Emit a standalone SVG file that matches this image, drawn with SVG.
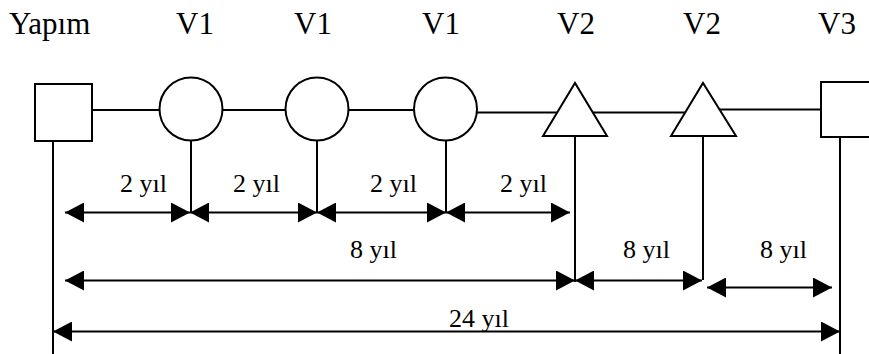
<svg xmlns="http://www.w3.org/2000/svg" width="869" height="354" viewBox="0 0 869 354">
<style>
.s{fill:#fff;stroke:#000;stroke-width:2}
.l{stroke:#000;stroke-width:2;fill:none}
.a{stroke:#000;stroke-width:2;fill:none;marker-start:url(#ah);marker-end:url(#ah)}
text{font-family:'Times New Roman','Liberation Serif','DejaVu Serif',serif;fill:#000}
.top{font-size:31px}
.lab{font-size:26px}
</style>
<defs>
<marker id="ah" viewBox="0 0 19 20" refX="19" refY="10" markerWidth="19" markerHeight="20" markerUnits="userSpaceOnUse" orient="auto-start-reverse">
<path d="M0,0 L19,10 L0,20 z" fill="#000"/>
</marker>
</defs>
<rect width="869" height="354" fill="#fff"/>
<g id="connectors">
<line class="l" x1="92" y1="110" x2="159.5" y2="110"/>
<line class="l" x1="222.5" y1="110" x2="285.5" y2="110"/>
<line class="l" x1="348.5" y1="110" x2="414" y2="110"/>
<line class="l" x1="477" y1="112.5" x2="557" y2="112.5"/>
<line class="l" x1="593" y1="112.5" x2="685" y2="112.5"/>
<line class="l" x1="719.5" y1="109.5" x2="821" y2="109.5"/>
<line class="l" x1="53" y1="141" x2="53" y2="354"/>
<line class="l" x1="191" y1="140.5" x2="191" y2="213"/>
<line class="l" x1="317" y1="140.5" x2="317" y2="213"/>
<line class="l" x1="446" y1="140.5" x2="446" y2="213"/>
<line class="l" x1="575" y1="136" x2="575" y2="282"/>
<line class="l" x1="703" y1="136" x2="703" y2="280"/>
<line class="l" x1="840" y1="137" x2="840" y2="354"/>
<line class="a" x1="65" y1="212.5" x2="190" y2="212.5"/>
<line class="a" x1="190" y1="212.5" x2="317" y2="212.5"/>
<line class="a" x1="317" y1="212.5" x2="446" y2="212.5"/>
<line class="a" x1="446" y1="212.5" x2="570" y2="212.5"/>
<line class="a" x1="65" y1="280.5" x2="575" y2="280.5"/>
<line class="a" x1="575" y1="280.5" x2="702" y2="280.5"/>
<line class="a" x1="707" y1="287.5" x2="832" y2="287.5"/>
<line class="a" x1="53" y1="331.5" x2="840" y2="331.5"/>
</g>
<g id="yapim"><rect class="s" x="35" y="84" width="57" height="57"/><text class="top" x="9" y="34">Yapım</text></g>
<g id="v1a"><circle class="s" cx="191" cy="109" r="31.5"/><text class="top" x="176" y="34">V1</text></g>
<g id="v1b"><circle class="s" cx="317" cy="109" r="31.5"/><text class="top" x="294" y="34">V1</text></g>
<g id="v1c"><circle class="s" cx="445.5" cy="109" r="31.5"/><text class="top" x="422" y="34">V1</text></g>
<g id="v2a"><polygon class="s" points="543,136 575,83 607,136"/><text class="top" x="557" y="34">V2</text></g>
<g id="v2b"><polygon class="s" points="671,136 703,83 736,136"/><text class="top" x="683" y="34">V2</text></g>
<g id="v3"><rect class="s" x="821" y="82" width="57" height="55"/><text class="top" x="818" y="34">V3</text></g>
<g id="labels">
<text class="lab" x="120" y="192">2 yıl</text>
<text class="lab" x="233" y="192">2 yıl</text>
<text class="lab" x="370" y="192">2 yıl</text>
<text class="lab" x="500" y="192">2 yıl</text>
<text class="lab" x="350" y="258">8 yıl</text>
<text class="lab" x="623" y="258">8 yıl</text>
<text class="lab" x="760" y="258">8 yıl</text>
<text class="lab" x="449" y="327">24 yıl</text>
</g>
</svg>
